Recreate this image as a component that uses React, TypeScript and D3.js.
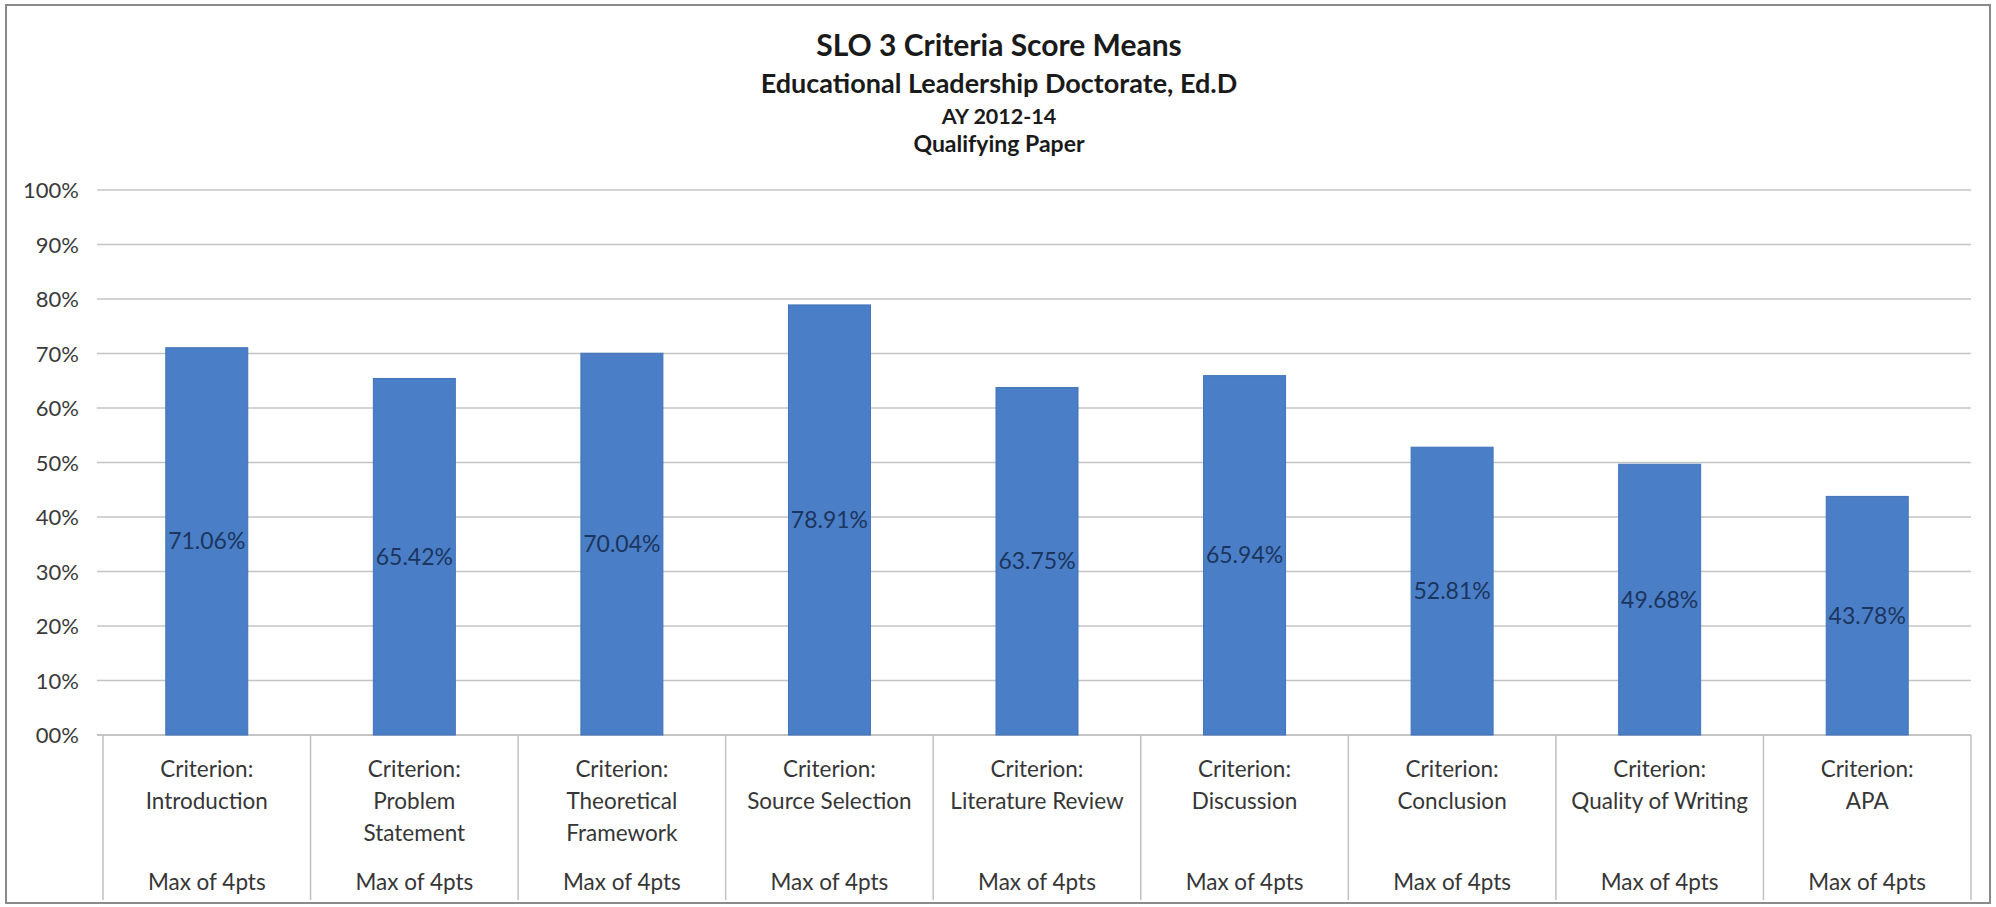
import React from "react";
import * as d3 from "d3";

const categories = [
  "Introduction",
  "Problem|Statement",
  "Theoretical|Framework",
  "Source Selection",
  "Literature Review",
  "Discussion",
  "Conclusion",
  "Quality of Writing",
  "APA",
];
const values = [71.06, 65.42, 70.04, 78.91, 63.75, 65.94, 52.81, 49.68, 43.78];
const yTicks = [0, 10, 20, 30, 40, 50, 60, 70, 80, 90, 100];
const titleLines = [
  "SLO 3 Criteria Score Means",
  "Educational Leadership Doctorate, Ed.D",
  "AY 2012-14",
  "Qualifying Paper",
];

const W = 1996;
const H = 907;
const FONT = "Lato, 'Open Sans', sans-serif";

export default function App() {
  const left = 103;
  const right = 1971;
  const top = 190;
  const bottom = 735;
  const x = d3.scaleBand<number>().domain(d3.range(categories.length)).range([left, right]).paddingInner(0).paddingOuter(0);
  const y = d3.scaleLinear().domain([0, 100]).range([bottom, top]);
  const bw = x.bandwidth() * 0.395;
  const fmtTick = (v: number) => (v === 0 ? "00%" : `${v}%`);

  return (
    <svg width={W} height={H} style={{ position: "absolute", left: 0, top: 0, background: "#fff" }}>
      <rect x={6} y={5} width={W - 12} height={H - 9} fill="#fff" stroke="#8a8a8a" strokeWidth={2} />
      {titleLines.map((t, i) => (
        <text
          key={i}
          x={999}
          y={[56, 93, 124, 152][i]}
          textAnchor="middle"
          fontFamily={FONT}
          fontWeight="bold"
          fontSize={[30, 27, 21.5, 23][i]}
          fill="#1a1a1a"
        >
          {t}
        </text>
      ))}
      {yTicks.map((t) => (
        <g key={t}>
          <line x1={97} x2={right} y1={y(t)} y2={y(t)} stroke={t === 0 ? "#b0b0b0" : "#c4c4c4"} strokeWidth={1.5} />
          <text x={79} y={y(t) + 8} textAnchor="end" fontFamily={FONT} fontSize={22} fill="#3a3a3a">
            {fmtTick(t)}
          </text>
        </g>
      ))}
      {d3.range(categories.length + 1).map((i) => {
        const xx = i < categories.length ? x(i)! : right;
        return <line key={i} x1={xx} x2={xx} y1={bottom} y2={900} stroke="#c0c0c0" strokeWidth={1.5} />;
      })}
      {values.map((v, i) => {
        const cx = x(i)! + x.bandwidth() / 2;
        return (
          <g key={i}>
            <rect x={cx - bw / 2} y={y(v)} width={bw} height={y(0) - y(v)} fill="#4a7fc7" stroke="#4172b8" strokeWidth={1} />
            <text
              x={cx}
              y={(y(v) + y(0)) / 2 + 8}
              textAnchor="middle"
              fontFamily={FONT}
              fontSize={23}
              fill="#1c355e"
            >
              {v.toFixed(2)}%
            </text>
          </g>
        );
      })}
      {categories.map((c, i) => {
        const cx = x(i)! + x.bandwidth() / 2;
        const lines = ["Criterion:", ...c.split("|")];
        return (
          <g key={i} fontFamily={FONT} fontSize={22.5} fill="#363636" textAnchor="middle">
            {lines.map((l, j) => (
              <text key={j} x={cx} y={777 + j * 32}>
                {l}
              </text>
            ))}
            <text x={cx} y={890}>Max of 4pts</text>
          </g>
        );
      })}
    </svg>
  );
}
